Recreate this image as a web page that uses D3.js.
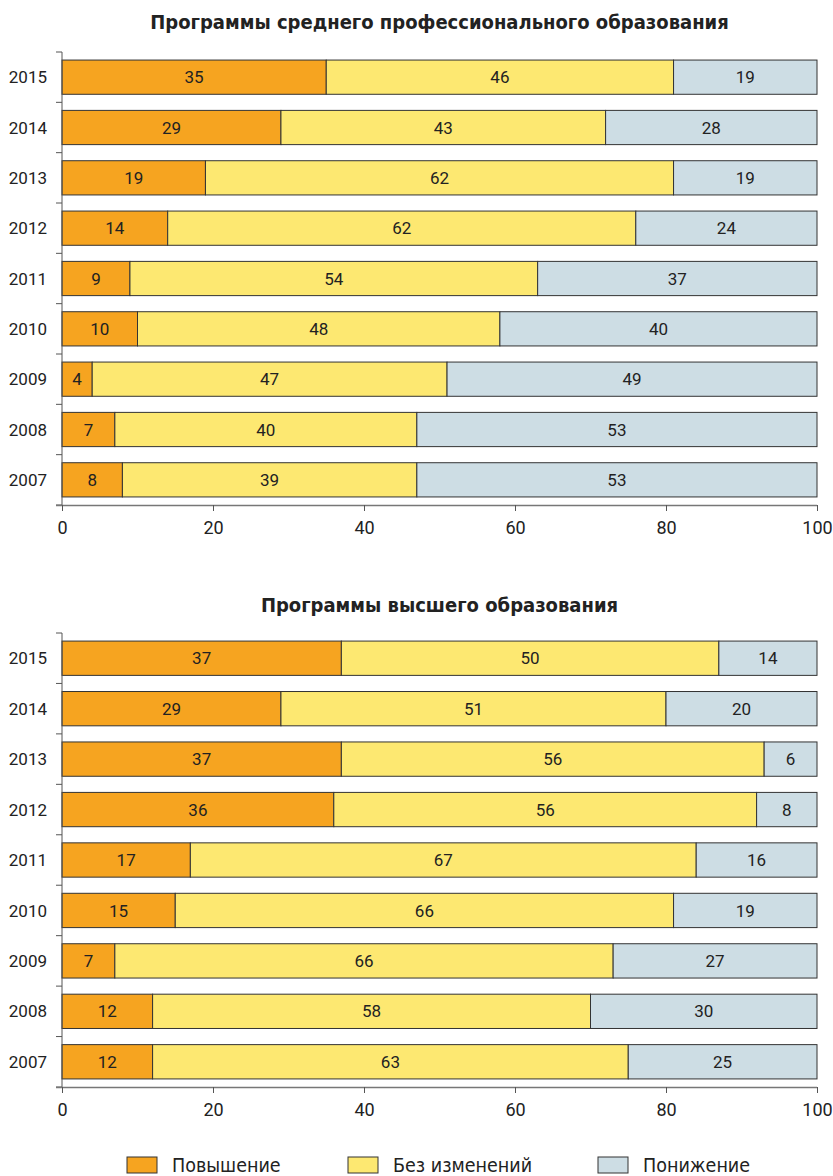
<!DOCTYPE html>
<html><head><meta charset="utf-8">
<script src="https://cdn.jsdelivr.net/npm/d3@7"></script>
<style>
body{margin:0;background:#fff;}
svg text{font-family:Roboto,"Liberation Sans",sans-serif;fill:#222;}
</style></head><body>
<svg id="c" width="833" height="1176"></svg>
<script>
const years = ["2015","2014","2013","2012","2011","2010","2009","2008","2007"];
const seriesNames = ["Повышение","Без изменений","Понижение"];
const colors = ["#F6A420","#FDE871","#CDDDE4"];
const title1 = "Программы среднего профессионального образования";
const spoUp   = [35,29,19,14,9,10,4,7,8];
const spoSame = [46,43,62,62,54,48,47,40,39];
const spoDown = [19,28,19,24,37,40,49,53,53];
const title2 = "Программы высшего образования";
const vpoUp   = [37,29,37,36,17,15,7,12,12];
const vpoSame = [50,51,56,56,67,66,66,58,63];
const vpoDown = [14,20,6,8,16,19,27,30,25];
const xTicks = [0,20,40,60,80,100];

const svg = d3.select("#c");
const x = d3.scaleLinear().domain([0,100]).range([62,817]);

function panel(title, up, same, down, top, bottom, titleY){
  const g = svg.append("g");
  g.append("text").attr("x",(x(0)+x(100))/2).attr("y",titleY)
    .attr("text-anchor","middle").attr("font-size",20).attr("font-weight","bold")
    .style("font-family","'DejaVu Sans Condensed',sans-serif")
    .text(title);
  const y = d3.scaleBand().domain(years).range([top,bottom]).paddingInner(0.32).paddingOuter(0.16);
  const rows = years.map((yr,i)=>({yr, segs:[
    {v:up[i], x0:0, x1:up[i], c:0},
    {v:same[i], x0:up[i], x1:up[i]+same[i], c:1},
    {v:down[i], x0:up[i]+same[i], x1:100, c:2}]}));
  const rg = g.selectAll("g.row").data(rows).join("g").attr("class","row");
  rg.selectAll("rect").data(d=>d.segs.map(s=>({...s,yr:d.yr}))).join("rect")
    .attr("x",d=>x(d.x0)).attr("width",d=>x(d.x1)-x(d.x0))
    .attr("y",d=>y(d.yr)).attr("height",y.bandwidth())
    .attr("fill",d=>colors[d.c]).attr("stroke","#333").attr("stroke-width",1);
  rg.selectAll("text").data(d=>d.segs.map(s=>({...s,yr:d.yr}))).join("text")
    .attr("x",d=>(x(d.x0)+x(d.x1))/2).attr("y",d=>y(d.yr)+y.bandwidth()/2)
    .attr("dy","0.36em").attr("text-anchor","middle").attr("font-size",17).attr("fill","#333")
    .text(d=>d.v);
  // y axis
  g.append("line").attr("x1",x(0)).attr("x2",x(0)).attr("y1",top).attr("y2",bottom).attr("stroke","#555");
  const step = y.step();
  for(let k=0;k<=years.length;k++){
    g.append("line").attr("x1",x(0)-6).attr("x2",x(0)).attr("y1",top+k*step).attr("y2",top+k*step).attr("stroke","#555");
  }
  g.selectAll("text.yl").data(years).join("text").attr("class","yl")
    .attr("x",x(0)-15).attr("y",d=>y(d)+y.bandwidth()/2).attr("dy","0.36em")
    .attr("text-anchor","end").attr("font-size",17).text(d=>d);
  // x axis
  const ax = g.append("g").attr("transform",`translate(0,${bottom})`)
    .call(d3.axisBottom(x).tickValues(xTicks).tickSize(6).tickPadding(10).tickSizeOuter(0));
  ax.select(".domain").attr("stroke","#777").attr("stroke-width",1.5).attr("d",`M${x(0)-6},0.5H${x(100)}`);
  ax.selectAll(".tick line").attr("stroke","#555");
  ax.selectAll(".tick text").attr("font-size",18).attr("fill","#222")
    .style("font-family","Roboto,sans-serif");
}
panel(title1, spoUp, spoSame, spoDown, 52, 505, 29);
panel(title2, vpoUp, vpoSame, vpoDown, 633, 1087, 612);

// legend
const legX = [127,348,598];
const lg = svg.selectAll("g.leg").data(seriesNames).join("g").attr("class","leg")
  .attr("transform",(d,i)=>`translate(${legX[i]},1157)`);
lg.append("rect").attr("width",30).attr("height",16).attr("fill",(d,i)=>colors[i]).attr("stroke","#333");
lg.append("text").attr("x",45).attr("y",15).attr("font-size",19.5).text(d=>d)
  .style("font-family","'DejaVu Sans Condensed',sans-serif");
</script></body></html>
